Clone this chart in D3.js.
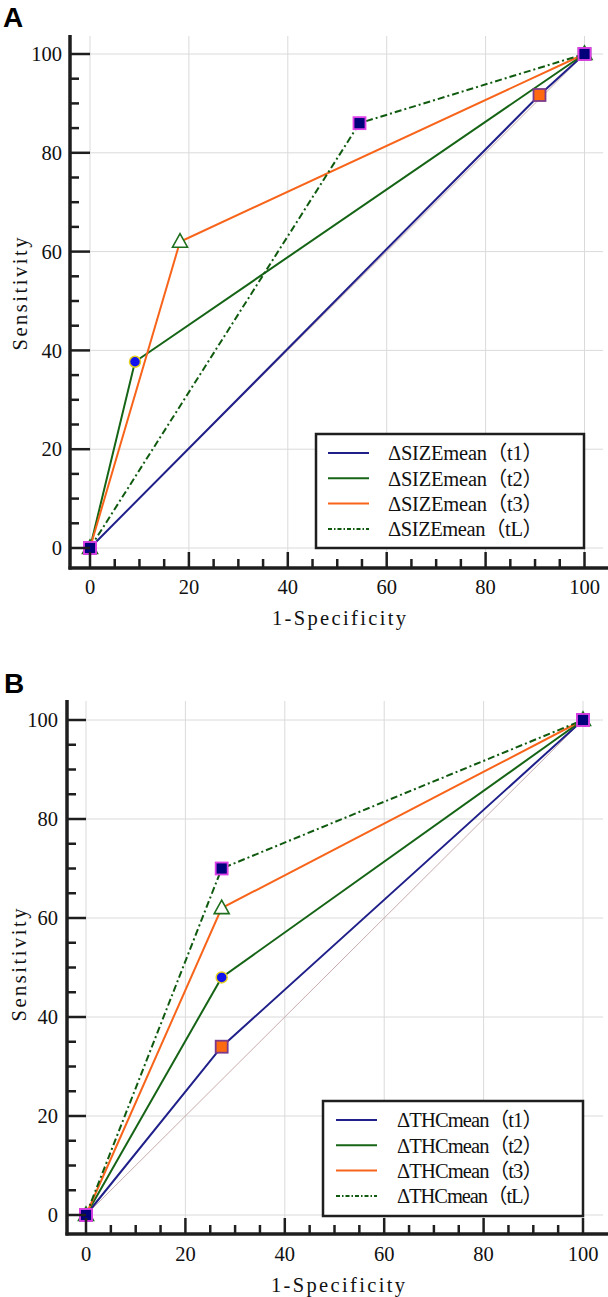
<!DOCTYPE html>
<html>
<head>
<meta charset="utf-8">
<script src="https://cdn.jsdelivr.net/npm/d3@7"></script>
<style>
  html, body { margin: 0; padding: 0; background: #fff; }
  svg { display: block; }
</style>
</head>
<body>
<script>
// ---------- DATA ----------
const xTicks = [0, 20, 40, 60, 80, 100];
const yTicks = [0, 20, 40, 60, 80, 100];
const minorStep = 5;
const seriesKeys = ["t1", "t2", "t3", "tL"];

const namesA = ["\u0394SIZEmean\uFF08t1\uFF09", "\u0394SIZEmean\uFF08t2\uFF09", "\u0394SIZEmean\uFF08t3\uFF09", "\u0394SIZEmean\uFF08tL\uFF09"];
const namesB = ["\u0394THCmean\uFF08t1\uFF09", "\u0394THCmean\uFF08t2\uFF09", "\u0394THCmean\uFF08t3\uFF09", "\u0394THCmean\uFF08tL\uFF09"];

// Panel A: ROC points (1-Specificity, Sensitivity)
const A_t1_x = [0, 90.9, 100], A_t1_y = [0, 91.7, 100];
const A_t2_x = [0, 9.1, 100],  A_t2_y = [0, 37.7, 100];
const A_t3_x = [0, 18.2, 100], A_t3_y = [0, 62, 100];
const A_tL_x = [0, 54.5, 100], A_tL_y = [0, 86, 100];

// Panel B
const B_t1_x = [0, 27.3, 100], B_t1_y = [0, 34, 100];
const B_t2_x = [0, 27.3, 100], B_t2_y = [0, 48, 100];
const B_t3_x = [0, 27.3, 100], B_t3_y = [0, 62, 100];
const B_tL_x = [0, 27.3, 100], B_tL_y = [0, 70, 100];

const diagX = [0, 100], diagY = [0, 100];

// ---------- STYLE ----------
const styles = {
  t1: { color: "#20208a", dash: null,        marker: "square",   fill: "#ff6a10", stroke: "#7b3a8c" },
  t2: { color: "#166416", dash: null,        marker: "circle",   fill: "#1212ee", stroke: "#e4d020" },
  t3: { color: "#f7641a", dash: null,        marker: "triangle", fill: "#ffffff", stroke: "#1d6e1d" },
  tL: { color: "#0f5a0f", dash: "7,3,2,3",   marker: "square",   fill: "#00007a", stroke: "#e040e8" }
};

const W = 608, H = 1297;
const svg = d3.select("body").append("svg").attr("width", W).attr("height", H);

const serif = "'Liberation Serif','Noto Sans CJK SC',serif";

function zipPts(xs, ys) { return xs.map((x, i) => [x, ys[i]]); }

function drawPanel(p) {
  const g = svg.append("g");
  const x = d3.scaleLinear().domain([0, 100]).range([p.x0, p.x100]);
  const y = d3.scaleLinear().domain([0, 100]).range([p.y0, p.y100]);

  // panel letter
  g.append("text").attr("x", p.letterX).attr("y", p.letterY)
    .attr("font-family", "'Liberation Sans',Arial,sans-serif").attr("font-weight", "bold")
    .attr("font-size", 28).attr("fill", "#000").text(p.letter);

  // grid
  g.append("g").selectAll("line").data(xTicks).join("line")
    .attr("x1", d => x(d)).attr("x2", d => x(d))
    .attr("y1", p.gridTop).attr("y2", p.axisY)
    .attr("stroke", "#dadada").attr("stroke-width", 1);
  g.append("g").selectAll("line").data(yTicks).join("line")
    .attr("y1", d => y(d)).attr("y2", d => y(d))
    .attr("x1", p.axisX).attr("x2", p.gridRight)
    .attr("stroke", "#dadada").attr("stroke-width", 1);

  // diagonal reference
  g.append("path").datum(zipPts(diagX, diagY))
    .attr("d", d3.line().x(d => x(d[0])).y(d => y(d[1])))
    .attr("fill", "none").attr("stroke", "#c9acae").attr("stroke-width", 1);

  // series lines
  const line = d3.line().x(d => x(d[0])).y(d => y(d[1]));
  seriesKeys.forEach(k => {
    const s = styles[k];
    g.append("path").datum(zipPts(p.data[k][0], p.data[k][1]))
      .attr("d", line).attr("fill", "none")
      .attr("stroke", s.color).attr("stroke-width", 2)
      .attr("stroke-dasharray", s.dash);
  });

  // markers
  seriesKeys.forEach(k => {
    const s = styles[k];
    const pts = zipPts(p.data[k][0], p.data[k][1]);
    const mg = g.append("g");
    pts.forEach(pt => {
      const cx = x(pt[0]), cy = y(pt[1]);
      if (s.marker === "square") {
        mg.append("rect").attr("x", cx - 6).attr("y", cy - 6).attr("width", 12).attr("height", 12)
          .attr("fill", s.fill).attr("stroke", s.stroke).attr("stroke-width", 1.8);
      } else if (s.marker === "circle") {
        mg.append("circle").attr("cx", cx).attr("cy", cy).attr("r", 5.5)
          .attr("fill", s.fill).attr("stroke", s.stroke).attr("stroke-width", 1.5);
      } else {
        mg.append("path").attr("d", `M${cx},${cy - 8}L${cx + 7.5},${cy + 5.5}L${cx - 7.5},${cy + 5.5}Z`)
          .attr("fill", s.fill).attr("stroke", s.stroke).attr("stroke-width", 1.6);
      }
    });
  });

  // axes lines
  g.append("line").attr("x1", p.axisX).attr("x2", p.axisX).attr("y1", p.axisTop).attr("y2", p.axisY + 1.5)
    .attr("stroke", "#1e1e1e").attr("stroke-width", 3.5);
  g.append("line").attr("x1", p.axisX - 1.5).attr("x2", W).attr("y1", p.axisY).attr("y2", p.axisY)
    .attr("stroke", "#1e1e1e").attr("stroke-width", 3.5);

  // ticks (inward)
  const minors = d3.range(0, 100 + 0.001, minorStep);
  g.append("g").selectAll("line").data(minors).join("line")
    .attr("x1", p.axisX).attr("x2", d => p.axisX + (d % 20 === 0 ? (p.x0 - p.axisX) : 9))
    .attr("y1", d => y(d)).attr("y2", d => y(d))
    .attr("stroke", "#1e1e1e").attr("stroke-width", 2.5);
  g.append("g").selectAll("line").data(minors).join("line")
    .attr("y1", p.axisY).attr("y2", d => p.axisY - (d % 20 === 0 ? 16 : 9))
    .attr("x1", d => x(d)).attr("x2", d => x(d))
    .attr("stroke", "#1e1e1e").attr("stroke-width", 2.5);

  // tick labels
  g.append("g").selectAll("text").data(yTicks).join("text")
    .attr("x", p.yLabelRight).attr("y", d => y(d)).attr("dy", "0.35em")
    .attr("text-anchor", "end").attr("font-family", serif).attr("font-size", 20.5)
    .attr("fill", "#111").text(d => d);
  g.append("g").selectAll("text").data(xTicks).join("text")
    .attr("x", d => x(d)).attr("y", p.xLabelBase)
    .attr("text-anchor", "middle").attr("font-family", serif).attr("font-size", 20.5)
    .attr("fill", "#111").text(d => d);

  // axis titles
  g.append("text").attr("x", p.xTitleX).attr("y", p.xTitleY)
    .attr("text-anchor", "middle").attr("font-family", serif).attr("font-size", 20.5)
    .attr("textLength", 134).attr("lengthAdjust", "spacing")
    .attr("fill", "#111").text("1-Specificity");
  g.append("text").attr("transform", `translate(${p.yTitleX},${p.yTitleY}) rotate(-90)`)
    .attr("text-anchor", "middle").attr("font-family", serif).attr("font-size", 20.5)
    .attr("textLength", 113).attr("lengthAdjust", "spacing")
    .attr("fill", "#111").text("Sensitivity");

  // legend
  const L = p.legend;
  g.append("rect").attr("x", L.x).attr("y", L.y).attr("width", L.w).attr("height", L.h)
    .attr("fill", "#fff").attr("stroke", "#1e1e1e").attr("stroke-width", 2.5);
  seriesKeys.forEach((k, i) => {
    const s = styles[k];
    const ry = L.firstRow + i * L.rowStep;
    g.append("line").attr("x1", L.lineX1).attr("x2", L.lineX2).attr("y1", ry).attr("y2", ry)
      .attr("stroke", s.color).attr("stroke-width", 2)
      .attr("stroke-dasharray", s.dash ? "4,2,1.5,2" : null);
    g.append("text").attr("x", L.textX).attr("y", ry).attr("dy", "0.36em")
      .attr("font-family", serif).attr("font-size", 20.5)
      .attr("textLength", L.textLen).attr("lengthAdjust", "spacing")
      .attr("fill", "#111").text(p.names[i]);
  });
}

drawPanel({
  letter: "A", letterX: 3, letterY: 27,
  x0: 90, x100: 584.5, y0: 548, y100: 54,
  axisX: 70, axisY: 568, axisTop: 35, gridTop: 36, gridRight: 603,
  yLabelRight: 62, xLabelBase: 594,
  xTitleX: 339, xTitleY: 625, yTitleX: 27, yTitleY: 294,
  names: namesA,
  data: { t1: [A_t1_x, A_t1_y], t2: [A_t2_x, A_t2_y], t3: [A_t3_x, A_t3_y], tL: [A_tL_x, A_tL_y] },
  legend: { x: 316, y: 434, w: 268, h: 114, firstRow: 453, rowStep: 25.3,
            lineX1: 328, lineX2: 369, textX: 388, textLen: 155 }
});

drawPanel({
  letter: "B", letterX: 4, letterY: 693,
  x0: 86, x100: 583, y0: 1215, y100: 720,
  axisX: 67, axisY: 1234, axisTop: 700, gridTop: 701, gridRight: 603,
  yLabelRight: 58, xLabelBase: 1261,
  xTitleX: 338, xTitleY: 1292, yTitleX: 26, yTitleY: 965,
  names: namesB,
  data: { t1: [B_t1_x, B_t1_y], t2: [B_t2_x, B_t2_y], t3: [B_t3_x, B_t3_y], tL: [B_tL_x, B_tL_y] },
  legend: { x: 323, y: 1101, w: 260, h: 115, firstRow: 1120, rowStep: 25.3,
            lineX1: 336, lineX2: 377, textX: 397, textLen: 146 }
});
</script>
</body>
</html>
